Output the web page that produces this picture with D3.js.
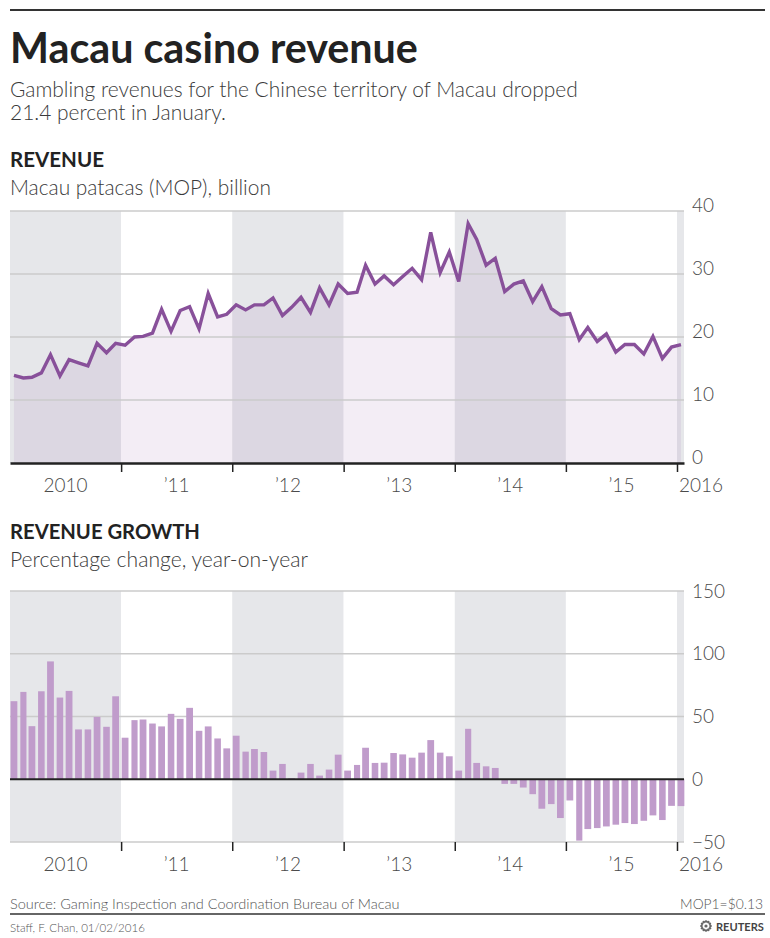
<!DOCTYPE html>
<html><head><meta charset="utf-8">
<script src="https://cdn.jsdelivr.net/npm/d3@7"></script>
<style>body{margin:0;background:#fff;} svg text{font-family:Lato,'Open Sans',sans-serif;}</style>
</head><body><script>
// ---------- DATA ----------
const yearLabels = ["2010", "\u201911", "\u201912", "\u201913", "\u201914", "\u201915", "2016"];
const revenueTicks = [0, 10, 20, 30, 40];
const growthTicks = [-50, 0, 50, 100, 150];
// Monthly gross gaming revenue, MOP billion, Jan 2010 - Jan 2016
const revenue = [
  13.9, 13.5, 13.6, 14.3, 17.2, 13.8, 16.4, 15.9, 15.4, 19.0, 17.5, 19.0,
  18.7, 20.0, 20.1, 20.6, 24.4, 20.9, 24.2, 24.8, 21.3, 26.9, 23.2, 23.6,
  25.1, 24.3, 25.1, 25.1, 26.2, 23.4, 24.7, 26.3, 23.9, 27.8, 25.1, 28.4,
  26.9, 27.1, 31.4, 28.4, 29.7, 28.3, 29.6, 30.9, 29.1, 36.6, 30.2, 33.5,
  28.8, 38.0, 35.5, 31.4, 32.5, 27.2, 28.4, 28.9, 25.6, 28.0, 24.5, 23.5,
  23.7, 19.6, 21.5, 19.3, 20.5, 17.6, 18.8, 18.8, 17.3, 20.1, 16.6, 18.4,
  18.8
];
// Year-on-year change, percent
const growth = [
  62.2, 69.6, 42.3, 70.1, 93.9, 65.1, 70.4, 39.7, 39.7, 49.7, 41.8, 66.1,
  33.1, 47.1, 47.6, 44.4, 42.1, 52.1, 48.1, 56.9, 38.6, 42.1, 32.5, 24.6,
  34.7, 22.0, 24.1, 21.7, 6.9, 12.2, 0.8, 5.3, 12.2, 2.9, 7.7, 19.6,
  6.9, 11.4, 25.1, 13.0, 13.2, 20.9, 19.8, 17.2, 21.2, 31.2, 21.2, 18.3,
  6.9, 40.2, 13.0, 10.3, 9.0, -3.7, -3.7, -6.6, -11.9, -23.5, -19.8, -30.9,
  -16.9, -48.9, -39.7, -38.9, -37.6, -36.2, -34.9, -35.7, -33.1, -28.8, -32.5, -21.2,
  -21.4
];
const startYear = 2010;

// ---------- SETUP ----------
const W = 770, H = 938;
const PURPLE = "#88509a", BAR = "#c09ccb", BAND = "#e6e7ea", GRID = "#cbcbcb", TXT = "#4a4a4a";
const svg = d3.select("body").append("svg").attr("width", W).attr("height", H);

const months = revenue.map((_, i) => new Date(startYear, i, 1));
const years = d3.range(startYear, startYear + yearLabels.length);
const endDate = new Date(2016, 0, 24);
const x = d3.scaleTime().domain([new Date(startYear, 0, 1), endDate]).range([10, 684]);
const mid = d => x(new Date(d.getFullYear(), d.getMonth(), 14));
const mWidth = d => x(new Date(d.getFullYear(), d.getMonth() + 1, 1)) - x(d);

function fit(sel, target) {
  const fs = parseFloat(sel.attr("font-size"));
  const len = sel.node().getComputedTextLength();
  sel.attr("font-size", (fs * target / len).toFixed(2));
  return sel;
}
function txt(xp, yp, s, size, opts = {}) {
  const t = svg.append("text").attr("x", xp).attr("y", yp).text(s)
    .attr("font-size", size).attr("fill", opts.fill || TXT)
    .attr("font-weight", opts.bold ? 700 : 300)
    .attr("text-anchor", opts.anchor || "start");
  if (opts.w) fit(t, opts.w);
  return t;
}

// ---------- HEADER ----------
svg.append("line").attr("x1", 10).attr("x2", 765).attr("y1", 10).attr("y2", 10)
  .attr("stroke", "#333").attr("stroke-width", 2);
txt(10, 63, "Macau casino revenue", 42, {bold: true, fill: "#222", w: 408});
txt(10, 97, "Gambling revenues for the Chinese territory of Macau dropped", 20, {fill: "#3a3a3a", w: 568});
txt(10, 120, "21.4 percent in January.", 20, {fill: "#3a3a3a", w: 216});
txt(10, 167, "REVENUE", 20, {bold: true, fill: "#222", w: 94});
txt(10, 195, "Macau patacas (MOP), billion", 20, {fill: "#3a3a3a", w: 261});
txt(10, 539, "REVENUE GROWTH", 20, {bold: true, fill: "#222", w: 190});
txt(10, 567, "Percentage change, year-on-year", 20, {fill: "#3a3a3a", w: 298});

// ---------- helpers for panels ----------
function bands(g, y0, y1) {
  g.selectAll("rect.band").data(years).join("rect").attr("class", "band")
    .attr("x", d => x(new Date(d, 0, 1)))
    .attr("width", d => Math.min(x(new Date(d + 1, 0, 1)), x.range()[1]) - x(new Date(d, 0, 1)))
    .attr("y", y0).attr("height", y1 - y0)
    .attr("fill", (d, i) => i % 2 === 0 ? BAND : "#fff");
}
function yearText(g, yp) {
  g.selectAll("text.yr").data(years).join("text").attr("class", "yr")
    .attr("x", (d, i) => i === years.length - 1 ? x(new Date(d, 0, 1)) + 2 : (x(new Date(d, 0, 1)) + x(new Date(d + 1, 0, 1))) / 2)
    .attr("text-anchor", (d, i) => i === years.length - 1 ? "start" : "middle")
    .attr("y", yp).attr("font-size", 19).attr("font-weight", 300).attr("fill", TXT)
    .text((d, i) => yearLabels[i]);
}
const boundaries = years.slice(1).map(y => new Date(y, 0, 1));

// ---------- REVENUE LINE CHART ----------
const y1 = d3.scaleLinear().domain([0, 40]).range([463, 211]);
const g1 = svg.append("g");
bands(g1, y1(40), y1(0));
g1.append("path").datum(months)
  .attr("d", d3.area().x(mid).y0(y1(0)).y1((d, i) => y1(revenue[i])))
  .attr("fill", PURPLE).attr("fill-opacity", 0.1);
g1.selectAll("line.grid").data(revenueTicks.filter(v => v > 0)).join("line").attr("class", "grid")
  .attr("x1", x.range()[0]).attr("x2", x.range()[1])
  .attr("y1", d => y1(d)).attr("y2", d => y1(d))
  .attr("stroke", GRID).attr("stroke-width", 1.5);
g1.append("path").datum(months)
  .attr("d", d3.line().x(mid).y((d, i) => y1(revenue[i])))
  .attr("fill", "none").attr("stroke", PURPLE).attr("stroke-width", 3.4);
const ax1 = g1.append("g").attr("transform", `translate(0,${y1(0)})`)
  .call(d3.axisBottom(x).tickValues(boundaries).tickSize(9).tickSizeOuter(0).tickFormat(""));
ax1.select(".domain").attr("stroke", "#222").attr("stroke-width", 2.5);
ax1.selectAll(".tick line").attr("stroke", "#222").attr("stroke-width", 1.5);
const ay1 = g1.append("g").attr("transform", `translate(${x.range()[1]},0)`)
  .call(d3.axisRight(y1).tickValues(revenueTicks).tickSize(0).tickPadding(8));
ay1.select(".domain").remove();
ay1.selectAll("text").attr("font-size", 19).attr("font-weight", 300).attr("fill", TXT).attr("dy", "0").attr("font-family", null);
yearText(g1, 492);

// ---------- GROWTH BAR CHART ----------
const y2 = d3.scaleLinear().domain([-50, 150]).range([842, 591]);
const g2 = svg.append("g");
bands(g2, y2(150), y2(-50));
g2.selectAll("line.grid").data(growthTicks.filter(v => v !== 0)).join("line").attr("class", "grid")
  .attr("x1", x.range()[0]).attr("x2", x.range()[1])
  .attr("y1", d => y2(d)).attr("y2", d => y2(d))
  .attr("stroke", GRID).attr("stroke-width", 1.5);
g2.selectAll("rect.bar").data(months).join("rect").attr("class", "bar")
  .attr("x", d => mid(d) - mWidth(d) * 0.36)
  .attr("width", d => mWidth(d) * 0.72)
  .attr("y", (d, i) => y2(Math.max(0, growth[i])))
  .attr("height", (d, i) => Math.abs(y2(growth[i]) - y2(0)))
  .attr("fill", BAR);
g2.append("line").attr("x1", x.range()[0]).attr("x2", x.range()[1])
  .attr("y1", y2(0)).attr("y2", y2(0)).attr("stroke", "#222").attr("stroke-width", 2);
const ax2 = g2.append("g").attr("transform", `translate(0,${y2(-50)})`)
  .call(d3.axisBottom(x).tickValues(boundaries).tickSize(9).tickSizeOuter(0).tickFormat(""));
ax2.select(".domain").remove();
ax2.selectAll(".tick line").attr("stroke", "#222").attr("stroke-width", 1.5);
const ay2 = g2.append("g").attr("transform", `translate(${x.range()[1]},0)`)
  .call(d3.axisRight(y2).tickValues(growthTicks).tickSize(0).tickPadding(8));
ay2.select(".domain").remove();
ay2.selectAll("text").attr("font-size", 19).attr("font-weight", 300).attr("fill", TXT).attr("font-family", null);
yearText(g2, 871);

// ---------- FOOTER ----------
txt(10, 909, "Source: Gaming Inspection and Coordination Bureau of Macau", 15, {fill: "#555", w: 390});
txt(763, 909, "MOP1=$0.13", 15, {fill: "#555", anchor: "end", w: 83});
svg.append("line").attr("x1", 10).attr("x2", 765).attr("y1", 914).attr("y2", 914)
  .attr("stroke", "#333").attr("stroke-width", 1.5);
txt(10, 932, "Staff, F. Chan, 01/02/2016", 13, {fill: "#555", w: 135});
// Reuters mark
const logo = svg.append("g").attr("transform", "translate(706,926)");
logo.selectAll("circle").data(d3.range(12)).join("circle")
  .attr("cx", d => 4.5 * Math.cos(d * Math.PI / 6)).attr("cy", d => 4.5 * Math.sin(d * Math.PI / 6))
  .attr("r", 1.3).attr("fill", "#666");
logo.append("circle").attr("r", 1.6).attr("fill", "#666");
txt(716, 931, "REUTERS", 12, {bold: true, fill: "#444", w: 48});
</script></body></html>
